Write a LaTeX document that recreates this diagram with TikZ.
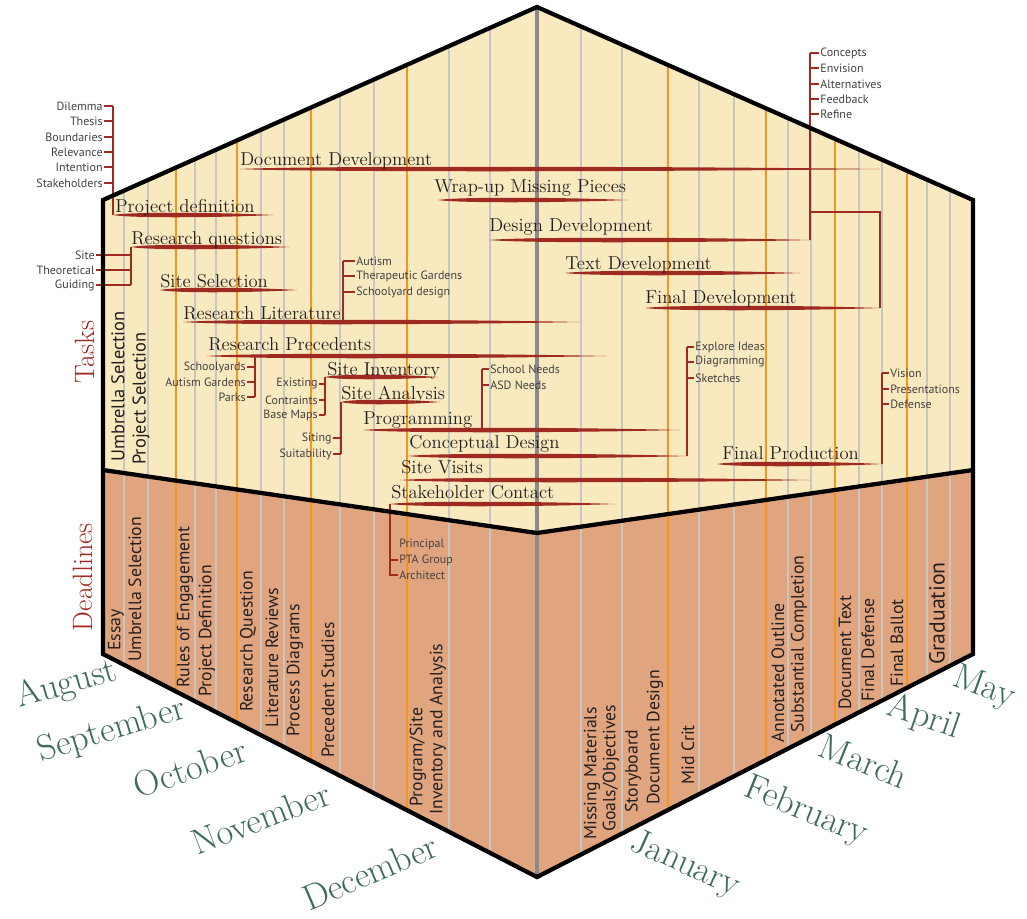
\documentclass[tikz,border=0pt]{standalone}
\usepackage{fontspec}
\newfontfamily\notefont{PT Sans}
\usetikzlibrary{calc}

\definecolor{cream}{HTML}{F9E9BF}
\definecolor{clay}{HTML}{E0A57F}
\definecolor{brick}{HTML}{9E2A22}
\definecolor{rule}{HTML}{C8C6C2}
\definecolor{tangerine}{HTML}{F7941D}
\definecolor{spine}{HTML}{8A8A8A}
\definecolor{pine}{HTML}{3D6B5C}
\definecolor{ink}{HTML}{231F20}

% tapered bar under a task: name, start x, end x, y
\newcommand\taskbar[4]{%
  \pgfmathsetmacro\barA{#2+0.10*(#3-#2)}%
  \pgfmathsetmacro\barB{#2+0.65*(#3-#2)}%
  \fill[brick] (#2,#4) .. controls (\barA,#4-3.2) and (\barB,#4-2.8) .. (#3,#4)
    .. controls (\barB,#4+2.8) and (\barA,#4+3.2) .. (#2,#4) -- cycle;
  \coordinate (#1-s) at (#2,#4);
  \coordinate (#1-e) at (#3,#4);
}

\begin{document}
\begin{tikzpicture}[x=0.75pt, y=-0.75pt,
    task/.style={anchor=base west, inner sep=0pt, text=ink, font=\fontsize{14}{15}\selectfont},
    note/.style={inner sep=0.8pt, text=ink!85, font=\notefont\fontsize{9}{10}\selectfont},
    due/.style={rotate=90, anchor=west, inner sep=0pt, text=ink, font=\notefont\fontsize{13.3}{14}\selectfont},
    month/.style={text=pine, font=\fontsize{27}{27}\selectfont},
    heading/.style={rotate=90, text=brick, font=\fontsize{21}{21}\selectfont},
    bracket/.style={brick, line width=1.1pt},
    hexline/.style={black, line width=3.2pt, line join=miter}]

\useasboundingbox (0,0) rectangle (1027,918);

% hexagon corners
\coordinate (tl) at (103,200);
\coordinate (top) at (537,7);
\coordinate (tr) at (973,200);
\coordinate (br) at (973,654);
\coordinate (bot) at (537,877);
\coordinate (bl) at (103,654);
\coordinate (ml) at (103,470);
\coordinate (mc) at (537,533);
\coordinate (mr) at (973,470);

\fill[cream] (tl) -- (top) -- (tr) -- (mr) -- (mc) -- (ml) -- cycle;
\fill[clay] (ml) -- (mc) -- (mr) -- (br) -- (bot) -- (bl) -- cycle;

% week lines, orange ones start a month
\begin{scope}
  \clip (tl) -- (top) -- (tr) -- (br) -- (bot) -- (bl) -- cycle;
  \foreach \x in {124,148,195,216,261,284,340,374,449,490,581,622,699,734,788,811,859,882,927,950}
    \draw[rule, line width=1pt] (\x,0) -- (\x,918);
  \foreach \x in {176,237,311,407,668,766,835,907}
    \draw[tangerine, line width=1pt] (\x,0) -- (\x,918);
\end{scope}
\draw[spine, line width=3pt] (top) -- (bot);

% tasks
\taskbar{projdef}{113}{273}{215}
\node[task] (projdef) at (115,212) {Project definition};
\taskbar{resq}{131}{290}{247}
\node[task] (resq) at (131,244) {Research questions};
\taskbar{sitesel}{160}{297}{290}
\node[task] (sitesel) at (160,287) {Site Selection};
\taskbar{reslit}{183}{580}{322}
\node[task] (reslit) at (183,319) {Research Literature};
\taskbar{resprec}{207}{607}{356}
\node[task] (resprec) at (208,350) {Research Precedents};
\taskbar{siteinv}{325}{438}{377}
\node[task] (siteinv) at (327,375) {Site Inventory};
\taskbar{siteana}{341}{440}{402}
\node[task] (siteana) at (341,399) {Site Analysis};
\taskbar{prog}{363}{680}{430}
\node[task] (prog) at (363,424) {Programming};
\taskbar{concept}{408}{687}{456}
\node[task] (concept) at (409,448) {Conceptual Design};
\taskbar{visits}{400}{810}{480}
\node[task] (visits) at (401,473) {Site Visits};
\taskbar{stake}{390}{615}{504}
\node[task] (stake) at (391,498) {Stakeholder Contact};
\taskbar{docdev}{240}{880}{169}
\node[task] (docdev) at (240,165) {Document Development};
\taskbar{wrapup}{438}{627}{200}
\node[task] (wrapup) at (434,192) {Wrap-up Missing Pieces};
\taskbar{desdev}{489}{810}{240}
\node[task] (desdev) at (489,231) {Design Development};
\taskbar{textdev}{565}{800}{273}
\node[task] (textdev) at (565,269) {Text Development};
\taskbar{findev}{645}{880}{308}
\node[task] (findev) at (645,303) {Final Development};
\taskbar{finprod}{717}{882}{464}
\node[task] (finprod) at (722,459) {Final Production};

% sub-items hanging off the tasks
\foreach \t/\y [count=\i] in {Dilemma/106, Thesis/121, Boundaries/137, Relevance/152, Intention/167, Stakeholders/183} {
  \node[note, anchor=east] (pd\i) at (104,\y) {\t};
  \draw[bracket] (pd\i.east) -- (pd\i.east -| projdef-s);
}
\draw[bracket] (projdef-s) -- (projdef-s |- pd1.east);

\foreach \t/\y [count=\i] in {Site/255, Theoretical/270, Guiding/285} {
  \node[note, anchor=east] (rq\i) at (96,\y) {\t};
  \draw[bracket] (rq\i.east) -- (rq\i.east -| resq-s);
}
\draw[bracket] (resq-s) -- (resq-s |- rq3.east);

\coordinate (litknot) at (343,322);
\foreach \t/\y [count=\i] in {Autism/261, Therapeutic Gardens/276, Schoolyard design/292} {
  \node[note, anchor=west] (rl\i) at (355,\y) {\t};
  \draw[bracket] (rl\i.west) -- (rl\i.west -| litknot);
}
\draw[bracket] (litknot) -- (litknot |- rl1.west);

\coordinate (precknot) at (255,356);
\foreach \t/\y [count=\i] in {Schoolyards/367, Autism Gardens/382, Parks/397} {
  \node[note, anchor=east] (rp\i) at (247,\y) {\t};
  \draw[bracket] (rp\i.east) -- (rp\i.east -| precknot);
}
\draw[bracket] (precknot) -- (precknot |- rp3.east);

\foreach \t/\y [count=\i] in {Existing/384, Contraints/400, Base Maps/415} {
  \node[note, anchor=east] (si\i) at (319,\y) {\t};
  \draw[bracket] (si\i.east) -- (si\i.east -| siteinv-s);
}
\draw[bracket] (siteinv-s) -- (siteinv-s |- si3.east);

\foreach \t/\y [count=\i] in {Siting/438, Suitability/454} {
  \node[note, anchor=east] (sa\i) at (333,\y) {\t};
  \draw[bracket] (sa\i.east) -- (sa\i.east -| siteana-s);
}
\draw[bracket] (siteana-s) -- (siteana-s |- sa2.east);

\coordinate (progknot) at (482,430);
\foreach \t/\y [count=\i] in {School Needs/369, ASD Needs/385} {
  \node[note, anchor=west] (pg\i) at (489,\y) {\t};
  \draw[bracket] (pg\i.west) -- (pg\i.west -| progknot);
}
\draw[bracket] (progknot) -- (progknot |- pg1.west);

\foreach \t/\y [count=\i] in {Explore Ideas/347, Diagramming/362, Sketches/378} {
  \node[note, anchor=west] (cd\i) at (694,\y) {\t};
  \draw[bracket] (cd\i.west) -- (cd\i.west -| concept-e);
}
\draw[bracket] (concept-e) -- (concept-e |- cd1.west);

\foreach \t/\y [count=\i] in {Vision/373, Presentations/389, Defense/404} {
  \node[note, anchor=west] (fp\i) at (889,\y) {\t};
  \draw[bracket] (fp\i.west) -- (fp\i.west -| finprod-e);
}
\draw[bracket] (finprod-e) -- (finprod-e |- fp1.west);

\foreach \t/\y [count=\i] in {Concepts/53, Envision/68, Alternatives/84, Feedback/99, Refine/114} {
  \node[note, anchor=west] (dd\i) at (819,\y) {\t};
  \draw[bracket] (dd\i.west) -- (dd\i.west -| desdev-e);
}
\draw[bracket] (desdev-e) -- (desdev-e |- dd1.west);
\coordinate (ddknot) at (810,212);
\draw[bracket] (ddknot) -| (findev-e);

\node[note, anchor=west] (sc1) at (398,544) {Principal};
\node[note, anchor=west] (sc2) at (398,560) {PTA Group};
\node[note, anchor=west] (sc3) at (398,575) {Architect};
\draw[bracket] (stake-s) |- (sc3.west);
\draw[bracket] (sc2.west -| stake-s) -- (sc2.west);

% deadlines
\node[due, font=\notefont\fontsize{13.8}{15}\selectfont] (top1) at (118,462) {Umbrella Selection};
\node[due, font=\notefont\fontsize{13.8}{15}\selectfont] (top2) at (141,465) {Project Selection};
\foreach \t/\x/\y [count=\i] in {Essay/116/651, Umbrella Selection/135/662, Rules of Engagement/185/688,
    Project Definition/207/697, Research Question/248/712, Literature Reviews/272/728,
    Process Diagrams/295/737, Precedent Studies/328/758, {Program/Site}/418/807,
    Inventory and Analysis/438/815, Missing Materials/592/840, {Goals/Objectives}/611/832,
    Storyboard/633/813, Document Design/655/805, Mid Crit/688/785,
    Annotated Outline/778/743, Substantial Completion/799/733, Document Text/845/710,
    Final Defense/868/702, Final Ballot/897/687}
  \node[due] (due\i) at (\x,\y) {\t};
\node[due, font=\notefont\fontsize{16.3}{17}\selectfont] (grad) at (937,665) {Graduation};

% outline
\draw[hexline] (tl) -- (top) -- (tr) -- (br) -- (bot) -- (bl) -- cycle;
\draw[hexline] (ml) -- (mc) -- (mr);

\node[heading] (tasks) at (85,352) {Tasks};
\node[heading] (deadlines) at (83,577) {Deadlines};

% months along the lower edges
\node[month, rotate=16] (aug) at (67,685) {August};
\node[month, rotate=17] (sep) at (112,731) {September};
\node[month, rotate=19] (oct) at (190,768) {October};
\node[month, rotate=21] (nov) at (261,818) {November};
\node[month, rotate=23] (dec) at (370,872) {December};
\node[month, rotate=-24] (jan) at (685,865) {January};
\node[month, rotate=-22] (feb) at (806,812) {February};
\node[month, rotate=-22] (mar) at (864,761) {March};
\node[month, rotate=-19] (apr) at (924,718) {April};
\node[month, rotate=-20] (may) at (984,688) {May};
\end{tikzpicture}
\end{document}
